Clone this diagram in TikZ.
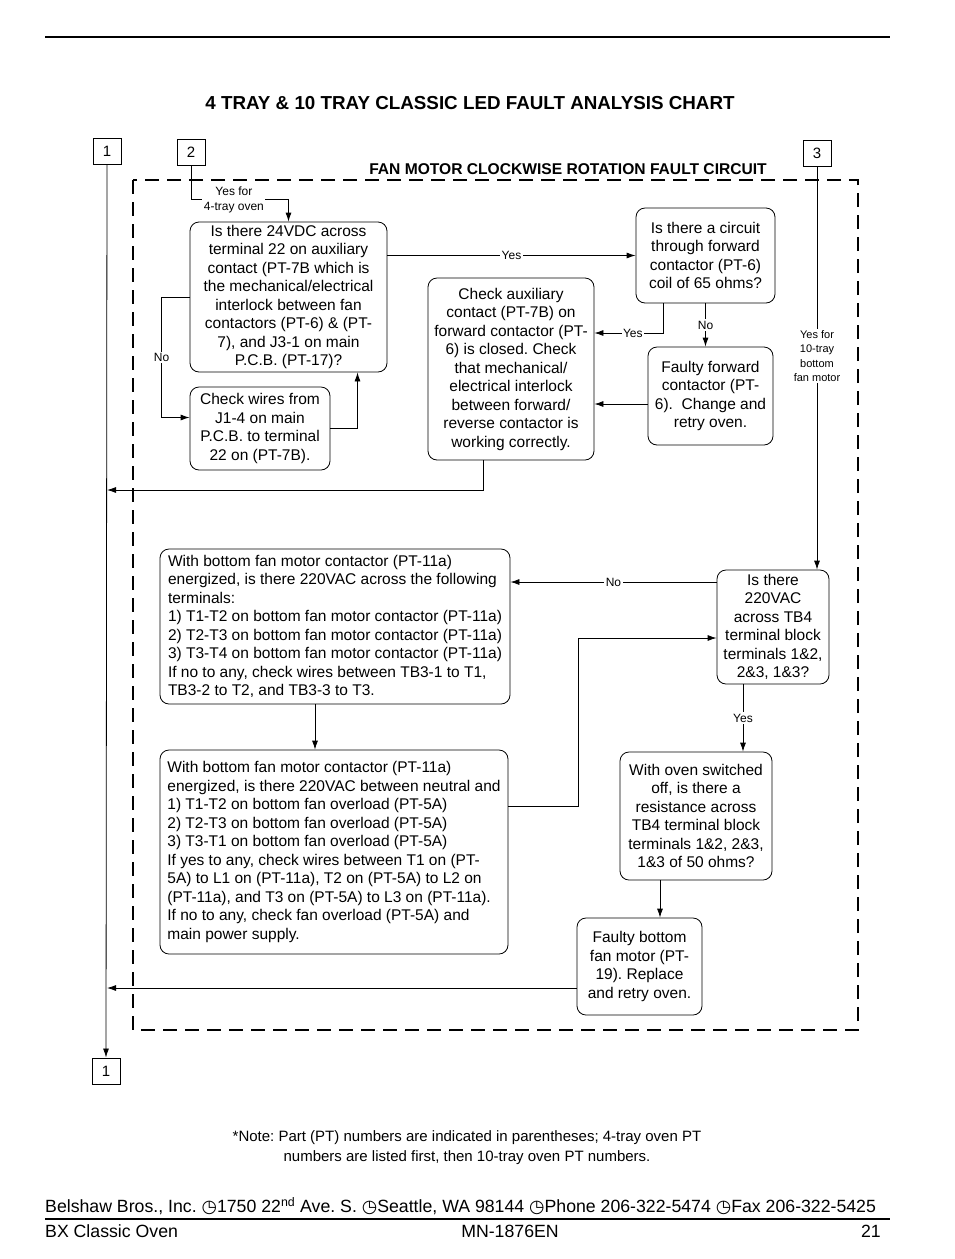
\documentclass[tikz,border=0pt]{standalone}
\usepackage{fontspec}
\setmainfont{Liberation Sans}
\newfontfamily\symbfont{DejaVu Sans}
\usetikzlibrary{arrows.meta,calc,positioning}

\tikzset{
  chartbox/.style={draw, rounded corners=9pt, line width=0.8pt, inner sep=3pt, align=center,
    font=\fontsize{15.5}{18.5}\selectfont},
  leftbox/.style={chartbox, align=left},
  pagebox/.style={draw, line width=1pt, minimum width=28pt, minimum height=26pt, inner sep=0pt,
    font=\fontsize{15}{18}\selectfont},
  flow/.style={line width=0.8pt, -{Latex[length=9pt,width=6pt]}},
  wire/.style={line width=0.8pt},
  tag/.style={fill=white, inner sep=1.5pt, align=center, font=\fontsize{12}{15}\selectfont},
  dashframe/.style={line width=2.8pt, dash pattern=on 14pt off 8pt}
}

\begin{document}
\frenchspacing
\begin{tikzpicture}[x=1pt,y=-1pt]
  \useasboundingbox (0,0) rectangle (954,1259);
  \draw[line width=1.2pt] (45,37) -- (890,37);
  \node[font=\bfseries\fontsize{18.8}{21}\selectfont] (title) at (470,103) {4 TRAY \& 10 TRAY CLASSIC LED FAULT ANALYSIS CHART};
  \node[font=\bfseries\fontsize{15.6}{18}\selectfont] (circuit) at (568,169) {FAN MOTOR CLOCKWISE ROTATION FAULT CIRCUIT};
  \draw[dashframe] (133,180) rectangle (858,1030);

  \node[pagebox] (one) at (107,151.5) {1};
  \node[pagebox] (two) at (191,152) {2};
  \node[pagebox] (three) at (817,153) {3};
  \node[pagebox] (oneb) at (106,1071) {1};

  \node[chartbox, minimum width=197pt, minimum height=150pt] (volt) at (288.5,297)
    {Is there 24VDC across\\terminal 22 on auxiliary\\contact (PT-7B which is\\the mechanical/electrical\\interlock between fan\\contactors (PT-6) \& (PT-\\7), and J3-1 on main\\P.C.B. (PT-17)?};
  \node[chartbox, minimum width=140pt, minimum height=83pt] (wires) at (260,428.5)
    {Check wires from\\J1-4 on main\\P.C.B. to terminal\\22 on (PT-7B).};
  \node[chartbox, minimum width=139pt, minimum height=95pt] (coil) at (705.5,255.5)
    {Is there a circuit\\through forward\\contactor (PT-6)\\coil of 65 ohms?};
  \node[chartbox, minimum width=166pt, minimum height=182pt] (aux) at (511,369)
    {Check auxiliary\\contact (PT-7B) on\\forward contactor (PT-\\6) is closed. Check\\that mechanical/\\electrical interlock\\between forward/\\reverse contactor is\\working correctly.};
  \node[chartbox, minimum width=125pt, minimum height=98pt] (fwd) at (710.5,396)
    {Faulty forward\\contactor (PT-\\6).\ \ Change and\\retry oven.};
  \node[chartbox, minimum width=112pt, minimum height=114pt] (tbfour) at (773,627)
    {Is there\\220VAC\\across TB4\\terminal block\\terminals 1\&2,\\2\&3, 1\&3?};
  \node[leftbox, minimum width=350pt, minimum height=155pt] (cont) at (335,626.5)
    {With bottom fan motor contactor (PT-11a)\\energized, is there 220VAC across the following\\terminals:\\1) T1-T2 on bottom fan motor contactor (PT-11a)\\2) T2-T3 on bottom fan motor contactor (PT-11a)\\3) T3-T4 on bottom fan motor contactor (PT-11a)\\If no to any, check wires between TB3-1 to T1,\\TB3-2 to T2, and TB3-3 to T3.};
  \node[leftbox, minimum width=348pt, minimum height=204pt] (ovld) at (334,852)
    {With bottom fan motor contactor (PT-11a)\\energized, is there 220VAC between neutral and\\1) T1-T2 on bottom fan overload (PT-5A)\\2) T2-T3 on bottom fan overload (PT-5A)\\3) T3-T1 on bottom fan overload (PT-5A)\\If yes to any, check wires between T1 on (PT-\\5A) to L1 on (PT-11a), T2 on (PT-5A) to L2 on\\(PT-11a), and T3 on (PT-5A) to L3 on (PT-11a).\\If no to any, check fan overload (PT-5A) and\\main power supply.};
  \node[chartbox, minimum width=152pt, minimum height=128pt] (ohms) at (696,816)
    {With oven switched\\off, is there a\\resistance across\\TB4 terminal block\\terminals 1\&2, 2\&3,\\1\&3 of 50 ohms?};
  \node[chartbox, minimum width=125pt, minimum height=97pt] (motor) at (639.5,966.5)
    {Faulty bottom\\fan motor (PT-\\19). Replace\\and retry oven.};

  \coordinate (ya) at ($(volt.north)+(0,-22)$);
  \coordinate (cd) at ($(coil.south)+(-42.5,0)$);
  \coordinate (da) at ($(aux.south)+(-28,0)$);
  \coordinate (fi) at ($(tbfour.south)+(-30,0)$);
  \coordinate (ij) at ($(ohms.south)+(-36,0)$);
  \coordinate (jl) at ($(motor.west)+(0,21.5)$);

  \draw[flow] (one.south) -- (oneb.north);
  \draw[flow] (two.south) |- node[tag, pos=0.72] {Yes for\\4-tray oven} (ya) -- (volt.north);
  \draw[flow] (volt.west) -- ++(-28,0) |- node[tag, pos=0.25] {No} ($(wires.west)+(0,-11)$);
  \draw[flow] (wires.east) -| ($(volt.south)+(69,0)$);
  \draw[flow] (volt.east |- coil.west) -- node[tag] {Yes} (coil.west);
  \draw[flow] (cd) |- node[tag, pos=0.72] {Yes} ($(aux.east)+(0,-36)$);
  \draw[flow] (coil.south) -- node[tag] {No} (coil.south |- fwd.north);
  \draw[flow] ($(fwd.west)+(0,8)$) -- ($(aux.east)+(0,35)$);
  \draw[flow] (da) |- (one.south |- 0,490);
  \draw[flow] (three.south) -- node[tag, pos=0.47, font=\fontsize{11}{14.5}\selectfont] {Yes for\\10-tray\\bottom\\fan motor} (three.south |- tbfour.north);
  \draw[flow] ($(tbfour.west)+(0,-45)$) -- node[tag] {No} ($(cont.east)+(0,-44.5)$);
  \draw[flow] ($(cont.south)+(-20,0)$) -- ($(ovld.north)+(-19,0)$);
  \draw[flow] ($(ovld.east)+(0,-46)$) -- ++(70,0) |- ($(tbfour.west)+(0,11)$);
  \draw[flow] (fi) -- node[tag] {Yes} (fi |- ohms.north);
  \draw[flow] (ij) -- (ij |- motor.north);
  \draw[flow] (jl) -- (one.south |- jl);

  \node[font=\fontsize{15}{20}\selectfont, align=center] (note) at (467,1148)
    {*Note: Part (PT) numbers are indicated in parentheses; 4-tray oven PT\\numbers are listed first, then 10-tray oven PT numbers.};
  \node[font=\fontsize{17.7}{20}\selectfont, anchor=west, inner sep=0pt] (addr) at (45,1206)
    {Belshaw Bros., Inc. {\symbfont ◷}1750 22\textsuperscript{nd} Ave. S. {\symbfont ◷}Seattle, WA 98144 {\symbfont ◷}Phone 206-322-5474 {\symbfont ◷}Fax 206-322-5425};
  \draw[line width=1.2pt] (45,1219) -- (890,1219);
  \node[font=\fontsize{17.7}{20}\selectfont, anchor=west, inner sep=0pt] (model) at (45,1231) {BX Classic Oven};
  \node[font=\fontsize{17.7}{20}\selectfont, inner sep=0pt] (doc) at (510,1231) {MN-1876EN};
  \node[font=\fontsize{17.7}{20}\selectfont, anchor=east, inner sep=0pt] (page) at (881,1231) {21};
\end{tikzpicture}
\end{document}
